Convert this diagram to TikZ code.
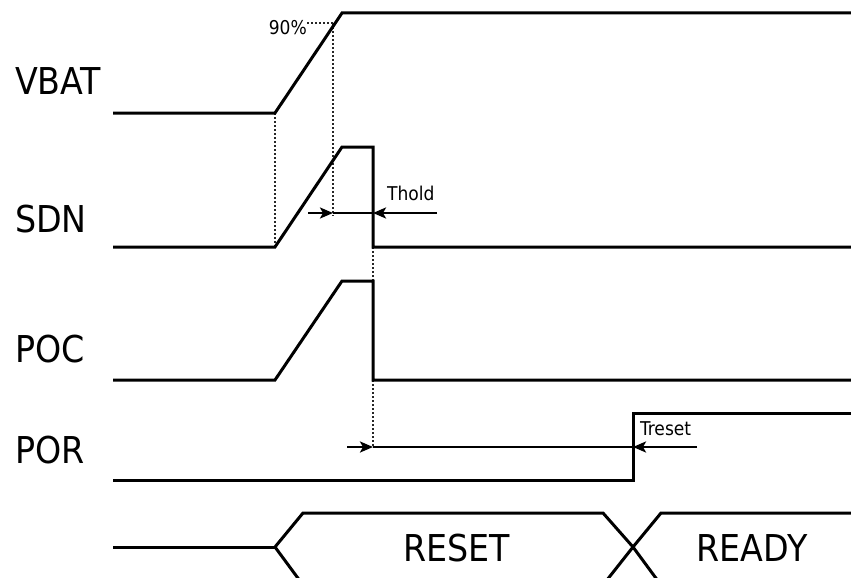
\documentclass[tikz,border=0pt]{standalone}
\usepackage{fontspec}
\setmainfont{DejaVu Sans Condensed}
\usetikzlibrary{arrows.meta}
\begin{document}
\begin{tikzpicture}[x=1pt,y=-1pt,
  sig/.style={line width=3pt,line join=miter,black},
  guide/.style={line width=2.4pt,dash pattern=on 2pt off 2pt,black!85},
  meas/.style={line width=2.4pt,black},
  tip/.style={-{Stealth[length=13pt,width=11pt,inset=3pt]}},
  biglbl/.style={font=\fontsize{37}{40}\selectfont,anchor=base west,inner sep=0pt},
  buslbl/.style={font=\fontsize{37}{40}\selectfont,inner sep=0pt},
  smalllbl/.style={font=\fontsize{19}{21}\selectfont,inner sep=0pt}]
\useasboundingbox (0,0) rectangle (851,578);
\clip (0,0) rectangle (851,578);
% signal names
\node[biglbl] (vbat) at (15,95) {VBAT};
\node[biglbl] (sdn) at (15,232) {SDN};
\node[biglbl] (poc) at (15,362) {POC};
\node[biglbl] (por) at (15,463) {POR};
% guides
\draw[guide] (275,113) -- (275,247);
\draw[guide] (333,23) -- (333,216);
\draw[guide] (307,23) -- (333,23);
\draw[guide] (373,247) -- (373,281);
\draw[guide] (373,380) -- (373,447);
% VBAT
\draw[sig] (113,113) -- (275,113) -- (342,13) -- (851,13);
\node[smalllbl,anchor=east] (p90) at (307,28) {90\%};
% SDN
\draw[sig] (113,247) -- (275,247) -- (342,147) -- (373,147) -- (373,247) -- (851,247);
% POC
\draw[sig] (113,380) -- (275,380) -- (342,281) -- (373,281) -- (373,380) -- (851,380);
% POR
\draw[sig] (113,480) -- (633,480) -- (633,413) -- (851,413);
% Thold
\coordinate (th1) at (308,213);
\coordinate (th2) at (333,213);
\coordinate (th3) at (373,213);
\coordinate (th4) at (437,213);
\draw[meas] (th2) -- (th3);
\draw[meas,tip] (th1) -- (th2);
\draw[meas,tip] (th4) -- (th3);
\node[smalllbl,anchor=base west] (thold) at (387,200) {Thold};
% Treset
\coordinate (tr1) at (347,447);
\coordinate (tr2) at (373,447);
\coordinate (tr3) at (633,447);
\coordinate (tr4) at (697,447);
\draw[meas] (tr2) -- (tr3);
\draw[meas,tip] (tr1) -- (tr2);
\draw[meas,tip] (tr4) -- (tr3);
\node[smalllbl,anchor=base west] (treset) at (640,435) {Treset};
% bus
\draw[sig] (113,547) -- (275,547);
\draw[sig] (303,585) -- (275,547) -- (303,513) -- (603,513) -- (633,547) -- (661,585);
\draw[sig] (603,585) -- (633,547) -- (661,513) -- (851,513);
\node[buslbl] (reset) at (457,548) {RESET};
\node[buslbl] (ready) at (752,548) {READY};
\end{tikzpicture}
\end{document}
